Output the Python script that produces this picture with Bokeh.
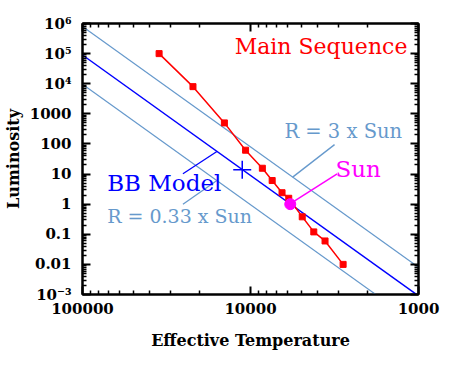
from bokeh.plotting import figure
from bokeh.models import Range1d, LogAxis, FixedTicker, Label
from bokeh.embed import file_html
from bokeh.resources import INLINE

# ---- data ----
ms_temp = [35000, 22000, 14300, 10700, 8500, 7430, 6490, 5920, 4920, 4200, 3600, 2810]
ms_lum = [1.0e5, 8000, 500, 62, 15.6, 6.1, 2.4, 1.57, 0.38, 0.12, 0.06, 0.01]

sun_temp = [5800]
sun_lum = [1.0]

bb_temp = [100000, 1000]
bb_lum = [9.0e4, 9.0e-4]        # R = 1 x Sun (BB model)
r3_lum = [8.0e5, 8.0e-3]        # R = 3 x Sun
r033_lum = [9.6e3, 9.6e-5]      # R = 0.33 x Sun

bb_mark_temp = [11200]
bb_mark_lum = [14.0]

# pointer segments (start -> end)
bb_ptr_t = [25240, 15850]
bb_ptr_l = [10.2, 56.0]
r033_ptr_t = [25240, 15850]
r033_ptr_l = [1.0, 6.1]
r3_ptr_t = [5610, 3160]
r3_ptr_l = [7.9, 95.0]
sun_ptr_t = [5700, 3050]
sun_ptr_l = [1.1, 10.2]

# labels
ms_label = ("Main Sequence", 12420, 9.8e4)
r3_label = ("R = 3 x Sun", 6280, 148.0)
sun_label = ("Sun", 3120, 8.9)
bb_label = ("BB Model", 71300, 2.99)
r033_label = ("R = 0.33 x Sun", 71300, 0.232)

x_ticks = [1e5, 1e4, 1e3]
x_tick_labels = ["100000", "10000", "1000"]
y_ticks = [1e-3, 1e-2, 1e-1, 1.0, 10.0, 100.0, 1000.0, 1e4, 1e5, 1e6]
y_tick_labels = ["10\u207b\u00b3", "0.01", "0.1", "1", "10", "100", "1000",
                 "10\u2074", "10\u2075", "10\u2076"]

LIGHT = "#6699cc"
FONT = "DejaVu Serif"

x_minor = [m * 10.0 ** k for k in (3, 4) for m in range(2, 10)]
y_minor = [m * 10.0 ** k for k in range(-3, 6) for m in range(2, 10)]

p = figure(width=440, height=360, output_backend="svg", toolbar_location=None,
           x_axis_type="log", y_axis_type="log",
           x_range=Range1d(100000, 1000), y_range=Range1d(1e-3, 1e6),
           min_border_left=79, min_border_right=22, min_border_top=23, min_border_bottom=66)
p.xgrid.visible = False
p.ygrid.visible = False
p.outline_line_color = "black"
p.outline_line_width = 2
p.background_fill_color = "white"
p.border_fill_color = "white"


def style_axis(ax, ticks, minor, labels=None):
    ax.ticker = FixedTicker(ticks=ticks, minor_ticks=minor)
    ax.axis_line_width = 2
    ax.axis_line_color = "black"
    ax.major_tick_in = 8
    ax.major_tick_out = 0
    ax.minor_tick_in = 4
    ax.minor_tick_out = 0
    ax.major_tick_line_width = 2
    ax.minor_tick_line_width = 1.5
    ax.major_label_text_font = FONT
    ax.major_label_text_font_style = "bold"
    ax.major_label_text_font_size = "15px"
    ax.major_label_text_color = "black"
    if labels is not None:
        ax.major_label_overrides = {t: l for t, l in zip(ticks, labels)}


xa = p.xaxis[0]
style_axis(xa, x_ticks, x_minor, x_tick_labels)
xa.axis_label = "Effective Temperature"
xa.axis_label_text_font = FONT
xa.axis_label_text_font_style = "bold"
xa.axis_label_text_font_size = "16px"
xa.axis_label_text_color = "black"
xa.axis_label_standoff = 14
xa.major_label_standoff = 8

ya = p.yaxis[0]
style_axis(ya, y_ticks, y_minor, y_tick_labels)
ya.axis_label = "Luminosity"
ya.axis_label_text_font = FONT
ya.axis_label_text_font_style = "bold"
ya.axis_label_text_font_size = "16px"
ya.axis_label_text_color = "black"
ya.axis_label_standoff = 4
ya.major_label_standoff = 11

top = LogAxis()
style_axis(top, x_ticks, x_minor, ["" for _ in x_ticks])
top.major_label_text_font_size = "0px"
p.add_layout(top, "above")
right = LogAxis()
style_axis(right, y_ticks, y_minor, ["" for _ in y_ticks])
right.major_label_text_font_size = "0px"
p.add_layout(right, "right")

# model lines
p.line(bb_temp, r3_lum, line_color=LIGHT, line_width=1.2)
p.line(bb_temp, r033_lum, line_color=LIGHT, line_width=1.2)
p.line(bb_temp, bb_lum, line_color="#0000ff", line_width=1.5)

# pointers
p.line(bb_ptr_t, bb_ptr_l, line_color="#0000ff", line_width=1.3)
p.line(r033_ptr_t, r033_ptr_l, line_color=LIGHT, line_width=1.3)
p.line(r3_ptr_t, r3_ptr_l, line_color=LIGHT, line_width=1.3)
p.line(sun_ptr_t, sun_ptr_l, line_color="#ff00ff", line_width=1.5)

# main sequence
p.line(ms_temp, ms_lum, line_color="#ff0000", line_width=1.5)
p.scatter(ms_temp, ms_lum, marker="square", size=6, fill_color="#ff0000", line_color="#ff0000")

# BB marker and sun
p.scatter(bb_mark_temp, bb_mark_lum, marker="cross", size=18, line_color="#0000ff", line_width=1.5)
p.scatter(sun_temp, sun_lum, marker="circle", size=11, fill_color="#ff00ff", line_color="#ff00ff")

# texts
for (txt, tx, ty), col, size in [(ms_label, "#ff0000", "22px"),
                                 (r3_label, LIGHT, "19.5px"),
                                 (sun_label, "#ff00ff", "23px"),
                                 (bb_label, "#0000ff", "23px"),
                                 (r033_label, LIGHT, "19px")]:
    p.add_layout(Label(x=tx, y=ty, y_offset=7, text=txt, text_color=col, text_font=FONT,
                       text_font_size=size, text_align="left", text_baseline="alphabetic"))

open("out.html", "w").write(file_html(p, INLINE))
